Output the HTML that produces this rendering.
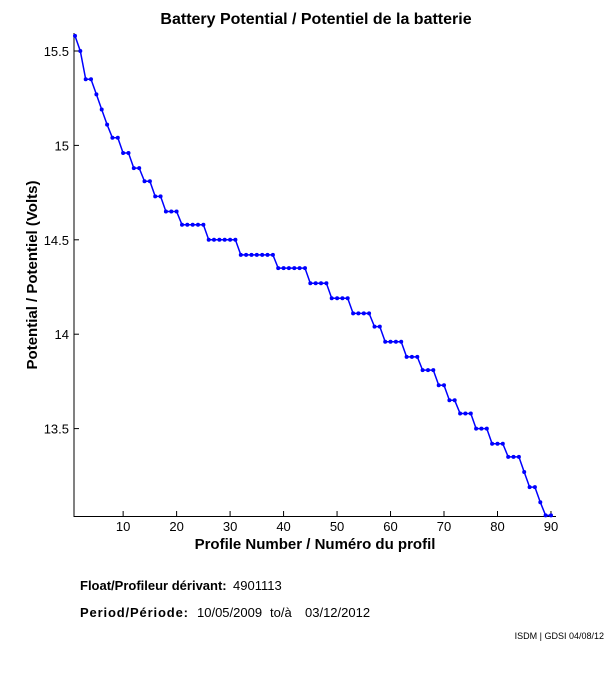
<!DOCTYPE html>
<html><head><meta charset="utf-8"><style>
body{margin:0;background:#fff;width:611px;height:675px;overflow:hidden;font-family:"Liberation Sans",sans-serif}
</style></head><body>
<svg id="s" width="611" height="675" xmlns="http://www.w3.org/2000/svg" font-family="Liberation Sans, sans-serif">
<text x="316" y="24" text-anchor="middle" font-size="16" font-weight="bold">Battery Potential / Potentiel de la batterie</text>
<line x1="74" y1="33" x2="74" y2="517" stroke="#000"/>
<line x1="74" y1="516.5" x2="556" y2="516.5" stroke="#000"/>
<g id="ticks" font-size="13"></g>
<polyline id="pl" fill="none" stroke="#00f" stroke-width="1.5"/>
<g id="mk" fill="#00f"></g>
<text x="315" y="549" text-anchor="middle" font-size="15" font-weight="bold">Profile Number / Numéro du profil</text>
<text transform="translate(37,275) rotate(-90)" text-anchor="middle" font-size="15" font-weight="bold">Potential / Potentiel (Volts)</text>
<text x="80" y="590" font-size="13"><tspan font-weight="bold">Float/Profileur dérivant:</tspan><tspan x="233">4901113</tspan></text>
<text x="80" y="617" font-size="13"><tspan font-weight="bold" textLength="108" lengthAdjust="spacing">Period/Période:</tspan><tspan x="197">10/05/2009</tspan><tspan x="270">to/à</tspan><tspan x="305">03/12/2012</tspan></text>
<text x="604" y="639" text-anchor="end" font-size="9">ISDM | GDSI 04/08/12</text>
</svg>
<script>
var runs=[[15.58,1],[15.50,1],[15.35,2],[15.27,1],[15.19,1],[15.11,1],[15.04,2],[14.96,2],[14.88,2],[14.81,2],[14.73,2],[14.65,3],[14.58,5],[14.50,6],[14.42,7],[14.35,6],[14.27,4],[14.19,4],[14.11,4],[14.04,2],[13.96,4],[13.88,3],[13.81,3],[13.73,2],[13.65,2],[13.58,3],[13.50,3],[13.42,3],[13.35,3],[13.27,1],[13.19,2],[13.11,1],[13.04,2]];
var v=[];runs.forEach(function(r){for(var i=0;i<r[1];i++)v.push(r[0]);});
function X(n){return 75+(n-1)*5.348;}function Y(t){return 51+(15.5-t)*188.8;}
var pts=[],mk='';v.forEach(function(t,i){var x=X(i+1),y=Y(t);pts.push(x.toFixed(1)+','+y.toFixed(1));mk+='<circle cx="'+x.toFixed(1)+'" cy="'+y.toFixed(1)+'" r="2"/>';});
document.getElementById('pl').setAttribute('points',pts.join(' '));
document.getElementById('mk').innerHTML=mk;
var tk='';[10,20,30,40,50,60,70,80,90].forEach(function(n){var x=X(n);tk+='<line x1="'+x+'" y1="516" x2="'+x+'" y2="511" stroke="#000"/><text x="'+x+'" y="531" text-anchor="middle">'+n+'</text>';});
[[15.5,'15.5'],[15,'15'],[14.5,'14.5'],[14,'14'],[13.5,'13.5']].forEach(function(a){var y=Y(a[0]);tk+='<line x1="74" y1="'+y+'" x2="79" y2="'+y+'" stroke="#000"/><text x="69" y="'+(y+5)+'" text-anchor="end">'+a[1]+'</text>';});
document.getElementById('ticks').innerHTML=tk;
</script>
</body></html>
